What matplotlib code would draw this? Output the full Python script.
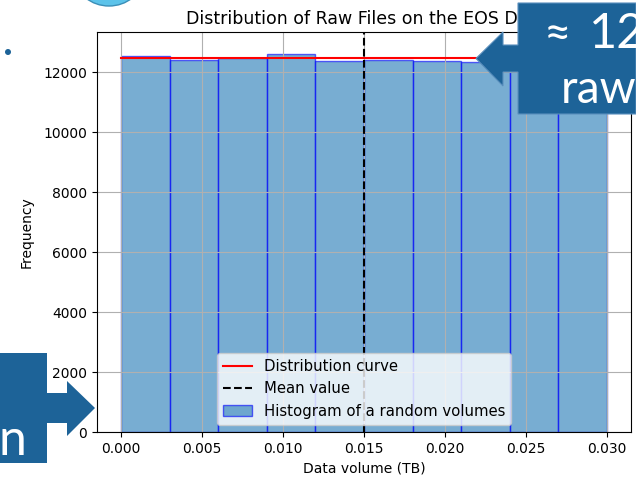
import matplotlib
matplotlib.use("Agg")
import matplotlib.pyplot as plt
from matplotlib.patches import Polygon, Ellipse, Circle

# histogram of raw file volumes (TB)
bin_edges = [0.0, 0.003, 0.006, 0.009, 0.012, 0.015, 0.018, 0.021, 0.024, 0.027, 0.030]
counts = [12545, 12400, 12455, 12600, 12355, 12400, 12365, 12335, 12700, 12560]
curve_x = [0.0, 0.030]
curve_y = [12478, 12478]
mean_value = 0.015

fig = plt.figure(figsize=(6.36, 4.78), dpi=100)
ax = fig.add_axes([97 / 636, 1 - 432 / 478, 534 / 636, 400 / 478])

ax.plot(curve_x, curve_y, color='red', label='Distribution curve')
ax.axvline(mean_value, color='black', linestyle='--', label='Mean value')
ax.hist(bin_edges[:-1], bins=bin_edges, weights=counts, color='#1f77b4',
        edgecolor='blue', alpha=0.6, label='Histogram of a random volumes')
ax.set_xlabel('Data volume (TB)')
ax.set_ylabel('Frequency', labelpad=7)
ax.set_title('Distribution of Raw Files on the EOS Disk', fontsize=12.5)
ax.grid(True)
ax.legend(loc='lower center', fontsize=10.7)

# slide decorations on top of the chart (pixel coordinates)
ov = fig.add_axes([0, 0, 1, 1], zorder=10)
ov.set_xlim(0, 636)
ov.set_ylim(478, 0)
ov.axis('off')
ov.patch.set_alpha(0)

dark = '#1d6398'
right_shape = [(636, 3), (518, 3), (518, 45), (503, 45), (503, 32), (476, 58.5),
               (503, 86), (503, 72), (518, 72), (518, 114), (636, 114)]
left_shape = [(0, 353), (47, 353), (47, 393), (67, 393), (67, 381), (95, 408),
              (67, 436), (67, 423), (47, 423), (47, 463), (0, 463)]
ov.add_patch(Polygon(right_shape, closed=True, facecolor=dark, edgecolor='#5a8fbd', lw=0.8))
ov.add_patch(Polygon(left_shape, closed=True, facecolor=dark, edgecolor='none'))
ov.add_patch(Ellipse((109, -22), 66, 56, facecolor='#5cc3ea', edgecolor='#3a8fb8', lw=1))
ov.add_patch(Circle((8, 52), 3, facecolor=dark, edgecolor='none'))

ov.text(544, 48, '≈', color='white', fontsize=34, family='Lato', va='baseline')
ov.text(589, 48, '12', color='white', fontsize=35, family='Lato', va='baseline')
ov.text(561, 103, 'raw', color='white', fontsize=33, family='Lato', va='baseline')
ov.text(26, 455, 'n', color='white', fontsize=36, family='Lato', va='baseline', ha='right')

fig.savefig('out.png', dpi=100)
